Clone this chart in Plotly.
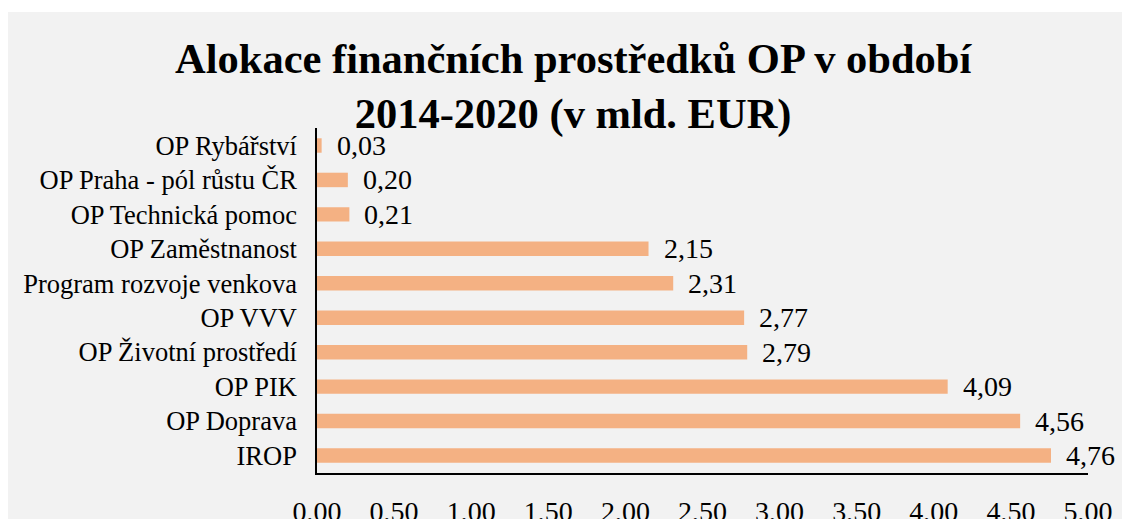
import plotly.graph_objects as go

categories = ["OP Rybářství", "OP Praha - pól růstu ČR", "OP Technická pomoc", "OP Zaměstnanost",
              "Program rozvoje venkova", "OP VVV", "OP Životní prostředí", "OP PIK", "OP Doprava", "IROP"]
values = [0.03, 0.20, 0.21, 2.15, 2.31, 2.77, 2.79, 4.09, 4.56, 4.76]
value_labels = ["0,03", "0,20", "0,21", "2,15", "2,31", "2,77", "2,79", "4,09", "4,56", "4,76"]
tick_vals = [0, 0.5, 1, 1.5, 2, 2.5, 3, 3.5, 4, 4.5, 5]
tick_text = ["0,00", "0,50", "1,00", "1,50", "2,00", "2,50", "3,00", "3,50", "4,00", "4,50", "5,00"]

FONT = "Liberation Serif"
BG = "#F2F2F2"

# figure is offset by the page's 8px body margin
W, H = 1122, 511
L, R, T, B = 309, 42, 120, 46
PW, PH = W - L - R, H - T - B

fig = go.Figure(go.Bar(
    x=values, y=categories, orientation="h",
    marker=dict(color="#F4B183", line=dict(width=0)),
    width=0.42, hoverinfo="skip",
))

annotations = []
for c, v, t in zip(categories, values, value_labels):
    annotations.append(dict(x=v, y=c, xref="x", yref="y", text=t, showarrow=False,
                            xanchor="left", yanchor="middle", xshift=13,
                            font=dict(family=FONT, size=28, color="black")))

annotations.append(dict(x=(565 - L) / PW, y=(H - B - 25) / PH, xref="paper", yref="paper",
                        xanchor="center", yanchor="top", showarrow=False,
                        text="<b>Alokace finančních prostředků OP v období<br>2014-2020 (v mld. EUR)</b>",
                        font=dict(family=FONT, size=42.5, color="black")))

fig.update_layout(
    width=W, height=H,
    margin=dict(l=L, r=R, t=T, b=B, autoexpand=False),
    paper_bgcolor=BG, plot_bgcolor=BG,
    showlegend=False,
    annotations=annotations,
    shapes=[
        dict(type="rect", xref="paper", yref="paper", x0=-1, x1=2, y0=(H - B - 4) / PH, y1=3,
             fillcolor="white", line=dict(width=0), layer="above"),
    ],
)
fig.update_xaxes(range=[0, 5], tickvals=tick_vals, ticktext=tick_text, showgrid=False, zeroline=False,
                 automargin=False,
                 showline=True, linecolor="black", linewidth=1.5,
                 ticks="outside", ticklen=13, tickcolor="rgba(0,0,0,0)",
                 tickfont=dict(family=FONT, size=28, color="black"))
fig.update_yaxes(autorange="reversed", showgrid=False, zeroline=False,
                 automargin=False,
                 tickmode="linear", tick0=0, dtick=1,
                 showline=True, linecolor="black", linewidth=1.5,
                 ticks="outside", ticklen=13, tickcolor="rgba(0,0,0,0)",
                 tickfont=dict(family=FONT, size=26.5, color="black"))

fig.write_html("out.html")
